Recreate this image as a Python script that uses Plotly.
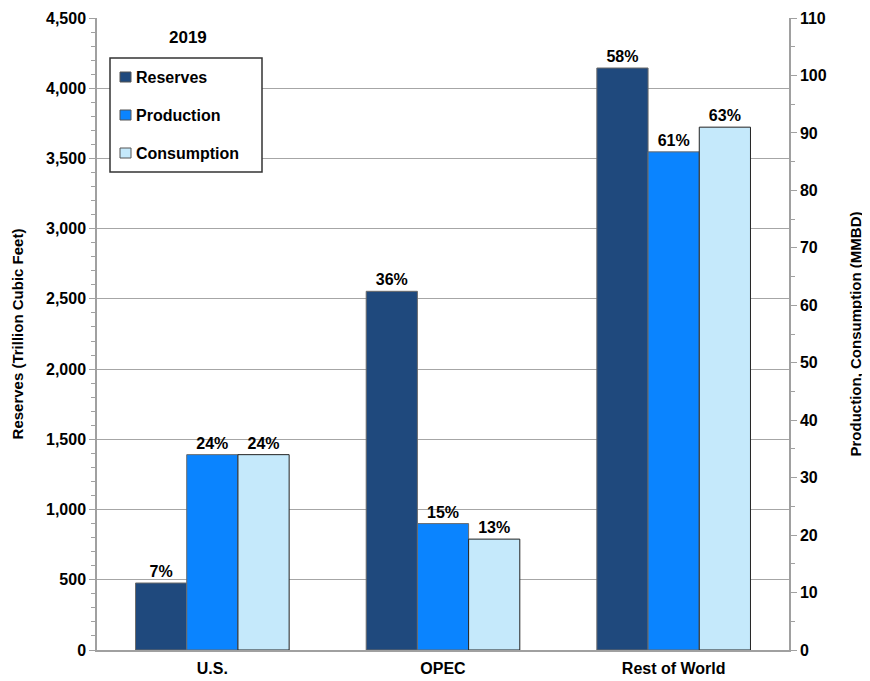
import plotly.graph_objects as go

categories = ["U.S.", "OPEC", "Rest of World"]
reserves = [477, 2554, 4144]          # Trillion Cubic Feet (left axis)
production = [34.0, 22.0, 86.7]       # MMBD (right axis)
consumption = [34.0, 19.3, 91.0]      # MMBD (right axis)
reserves_pct = ["7%", "36%", "58%"]
production_pct = ["24%", "15%", "61%"]
consumption_pct = ["24%", "13%", "63%"]
series_names = ["Reserves", "Production", "Consumption"]

FONT = "Arial, Liberation Sans, sans-serif"
C_RES = "#1F497D"
C_PROD = "#0A84FF"
C_CONS = "#C5E9FB"
colors = [C_RES, C_PROD, C_CONS]

def bfont(size):
    return dict(family=FONT, size=size, color="black", weight="bold")

bw = 0.222
fig = go.Figure()
fig.add_trace(go.Bar(
    x=categories, y=reserves, name="Reserves", yaxis="y",
    width=bw, offset=-1.5 * bw,
    marker=dict(color=C_RES, line=dict(color="#6b6b6b", width=1)),
    text=reserves_pct, textposition="outside", cliponaxis=False,
    textfont=bfont(16), showlegend=False,
))
fig.add_trace(go.Bar(
    x=categories, y=production, name="Production", yaxis="y2",
    width=bw, offset=-0.5 * bw,
    marker=dict(color=C_PROD, line=dict(color="#6b6b6b", width=1)),
    text=production_pct, textposition="outside", cliponaxis=False,
    textfont=bfont(16), showlegend=False,
))
fig.add_trace(go.Bar(
    x=categories, y=consumption, name="Consumption", yaxis="y2",
    width=bw, offset=0.5 * bw,
    marker=dict(color=C_CONS, line=dict(color="#222222", width=1)),
    text=consumption_pct, textposition="outside", cliponaxis=False,
    textfont=bfont(16), showlegend=False,
))

# Custom legend box (paper coordinates)
plot_w, plot_h = 692.0, 632.0
def px(x):
    return (x - 97) / plot_w
def py(y):
    return (651 - y) / plot_h

shapes = [dict(type="rect", xref="paper", yref="paper",
               x0=px(110), x1=px(262), y0=py(173), y1=py(59),
               line=dict(color="#333333", width=1.5), fillcolor="white", layer="above")]
annotations = [dict(
    text="2019", x=px(188), y=py(38), xref="paper", yref="paper",
    xanchor="center", yanchor="middle",
    showarrow=False, font=bfont(17),
)]
row_y = [78, 116, 154]
for name, col, yy in zip(series_names, colors, row_y):
    shapes.append(dict(type="rect", xref="paper", yref="paper",
                       x0=px(120), x1=px(131), y0=py(yy + 5), y1=py(yy - 5),
                       line=dict(color="#555555", width=1), fillcolor=col, layer="above"))
    annotations.append(dict(text=name, x=px(134), y=py(yy), xref="paper", yref="paper",
                            xanchor="left", yanchor="middle", showarrow=False,
                            font=bfont(16)))

fig.update_layout(
    width=862, height=673,
    margin=dict(l=89, r=81, t=10, b=31),
    paper_bgcolor="white", plot_bgcolor="white",
    font=bfont(16),
    barmode="overlay",
    showlegend=False,
    xaxis=dict(
        type="category", range=[-0.5, 2.5], automargin=False,
        showline=True, linecolor="#a0a0a0", linewidth=1.5,
        ticks="", showgrid=False, ticklabelstandoff=3,
        tickfont=bfont(16),
    ),
    yaxis=dict(
        range=[0, 4500], dtick=500, tickformat=",d", automargin=False,
        showgrid=True, gridcolor="#a6a6a6", gridwidth=1,
        showline=True, linecolor="#a0a0a0", linewidth=1.5,
        ticks="outside", ticklen=6, tickcolor="#a0a0a0",
        minor=dict(dtick=100, ticks="outside", ticklen=4, tickcolor="#a0a0a0", showgrid=False),
        tickfont=bfont(16),
        title=dict(text="Reserves (Trillion Cubic Feet)", font=bfont(15), standoff=19),
        zeroline=False,
    ),
    yaxis2=dict(
        range=[0, 110], dtick=10, overlaying="y", side="right", automargin=False,
        showgrid=False,
        showline=True, linecolor="#a0a0a0", linewidth=1.5,
        ticks="outside", ticklen=6, tickcolor="#a0a0a0",
        minor=dict(dtick=5, ticks="outside", ticklen=4, tickcolor="#a0a0a0", showgrid=False),
        tickfont=bfont(16),
        title=dict(text="Production, Consumption (MMBD)", font=bfont(15), standoff=25),
        zeroline=False,
    ),
    shapes=shapes,
    annotations=annotations,
)

fig.write_html("out.html")
